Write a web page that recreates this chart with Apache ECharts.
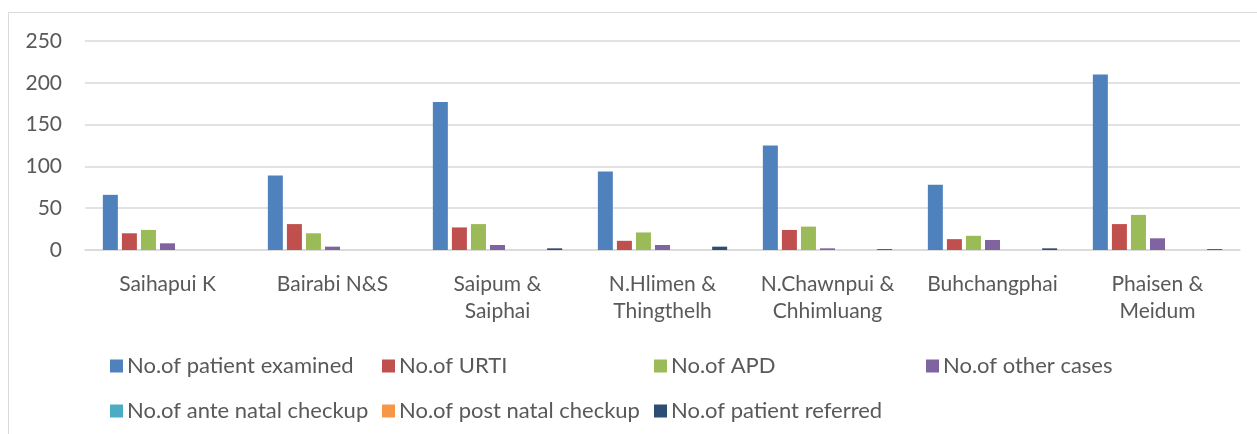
<!DOCTYPE html>
<html><head><meta charset="utf-8">
<script src="https://cdn.jsdelivr.net/npm/echarts@6/dist/echarts.min.js"></script>
<style>html,body{margin:0;padding:0;background:#fff}#c{width:1257px;height:434px}</style>
</head><body><div id="c"></div>
<script>
const categories = ["Saihapui K","Bairabi N&S","Saipum &\nSaiphai","N.Hlimen &\nThingthelh","N.Chawnpui &\nChhimluang","Buhchangphai","Phaisen &\nMeidum"];
const seriesNames = ["No.of patient examined","No.of URTI","No.of APD","No.of other cases","No.of ante natal checkup","No.of post natal checkup","No.of patient referred"];
const patientExamined = [66, 89, 177, 94, 125, 78, 210];
const urti = [20, 31, 27, 11, 24, 13, 31];
const apd = [24, 20, 31, 21, 28, 17, 42];
const otherCases = [8, 4, 6, 6, 2, 12, 14];
const anteNatal = [0, 0, 0, 0, 0, 0, 0];
const postNatal = [0, 0, 0, 0, 0, 0, 0];
const referred = [0, 0, 2, 4, 1, 2, 1];
const yTicks = {min: 0, max: 250, interval: 50};

const colors = ["#4F81BD","#C0504D","#9BBB59","#8064A2","#4BACC6","#F79646","#2C4D75"];
const values = [patientExamined, urti, apd, otherCases, anteNatal, postNatal, referred];
const FONT = "Lato";
const TXT = '#595959';
const chart = echarts.init(document.getElementById('c'), null, {renderer: 'canvas'});
const legends = seriesNames.map((n, i) => ({
  data: [n], icon: 'rect', itemWidth: 13, itemHeight: 13, itemGap: 0,
  left: 105 + 272 * (i % 4), top: i < 4 ? 350 : 395,
  textStyle: {fontFamily: FONT, fontSize: 22, color: TXT, padding: [0,0,0,-1]},
  selectedMode: false
}));
chart.setOption({
  animation: false,
  color: colors,
  graphic: [{type: 'rect', shape: {x: 8.5, y: 12.5, width: 1260, height: 430}, style: {fill: 'none', stroke: '#D9D9D9', lineWidth: 1}, silent: true}],
  grid: {left: 85, right: 17, top: 41, bottom: 184, containLabel: false},
  legend: legends,
  xAxis: {
    type: 'category', data: categories,
    axisLine: {show: true, lineStyle: {color: '#D9D9D9', width: 1.5}},
    axisTick: {show: false},
    axisLabel: {fontFamily: FONT, fontSize: 21, color: TXT, lineHeight: 27, margin: 21, interval: 0}
  },
  yAxis: {
    type: 'value', min: yTicks.min, max: yTicks.max, interval: yTicks.interval,
    axisLine: {show: false}, axisTick: {show: false},
    splitLine: {lineStyle: {color: '#D9D9D9', width: 1.5}},
    axisLabel: {fontFamily: FONT, fontSize: 21, color: TXT, margin: 23}
  },
  series: seriesNames.map((n, i) => ({
    name: n, type: 'bar', data: values[i], barWidth: 15, barGap: '27%',
    itemStyle: {color: colors[i], borderWidth: 0}
  }))
});
</script></body></html>
